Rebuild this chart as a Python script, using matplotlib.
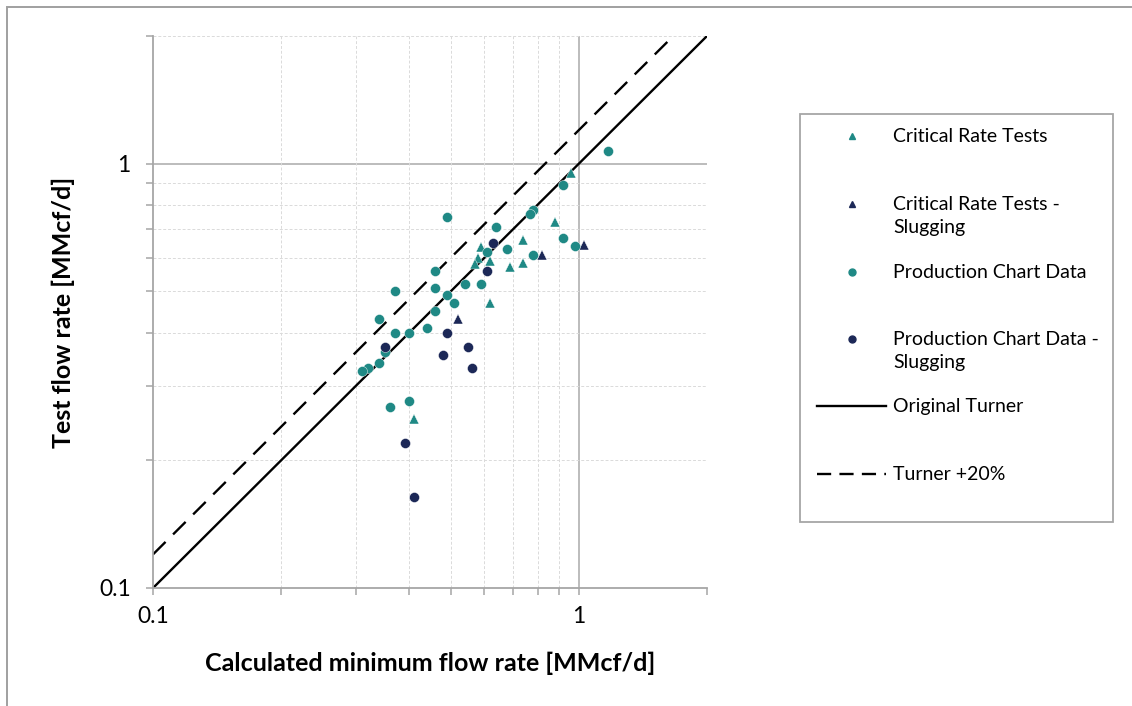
import matplotlib
matplotlib.use("Agg")
import matplotlib.pyplot as plt
from matplotlib.patches import Rectangle
from matplotlib.ticker import FixedLocator, NullFormatter, FixedFormatter

plt.rcParams['font.family'] = ['Lato', 'DejaVu Sans']

# Critical Rate Tests (teal triangles)
crt_x = [0.96, 0.88, 0.74, 0.59, 0.58, 0.57, 0.62, 0.69, 0.74, 0.62, 0.41]
crt_y = [0.95, 0.73, 0.66, 0.635, 0.60, 0.58, 0.59, 0.57, 0.585, 0.47, 0.25]

# Critical Rate Tests - Slugging (navy triangles)
crts_x = [1.03, 0.82, 0.52]
crts_y = [0.645, 0.61, 0.43]

# Production Chart Data (teal circles)
pcd_x = [1.17, 0.92, 0.78, 0.77, 0.49, 0.64, 0.92, 0.98, 0.68, 0.61, 0.78,
         0.46, 0.37, 0.46, 0.54, 0.59, 0.49, 0.51, 0.46, 0.34, 0.37, 0.40,
         0.44, 0.35, 0.34, 0.32, 0.31, 0.36, 0.40]
pcd_y = [1.07, 0.89, 0.78, 0.76, 0.75, 0.71, 0.67, 0.64, 0.63, 0.62, 0.61,
         0.56, 0.50, 0.51, 0.52, 0.52, 0.49, 0.47, 0.45, 0.43, 0.40, 0.40,
         0.41, 0.36, 0.34, 0.33, 0.324, 0.267, 0.276]

# Production Chart Data - Slugging (navy circles)
pcds_x = [0.63, 0.61, 0.49, 0.55, 0.35, 0.48, 0.56, 0.39, 0.41]
pcds_y = [0.65, 0.56, 0.40, 0.37, 0.37, 0.355, 0.33, 0.22, 0.164]

# Turner lines
turner_x = [0.1, 2.0]
turner_y = [0.1, 2.0]
turner20_x = [0.1, 2.0 / 1.2]
turner20_y = [0.12, 2.0]

TEAL = '#1f8985'
NAVY = '#1c2857'
GRID = '#dadada'
AXIS = '#a6a6a6'

major = [0.1, 1]
minor = [0.2, 0.3, 0.4, 0.5, 0.6, 0.7, 0.8, 0.9, 2]


def main():
    fig = plt.figure(figsize=(11.32, 7.06), dpi=100)
    ax = fig.add_axes([153 / 1132, 1 - 588 / 706, 554 / 1132, 552 / 706])

    ax.set_xscale('log')
    ax.set_yscale('log')
    ax.set_xlim(0.1, 2)
    ax.set_ylim(0.1, 2)

    for a in (ax.xaxis, ax.yaxis):
        a.set_major_locator(FixedLocator(major))
        a.set_major_formatter(FixedFormatter(['0.1', '1']))
        a.set_minor_locator(FixedLocator(minor))
        a.set_minor_formatter(NullFormatter())

    ax.grid(which='minor', color=GRID, lw=0.7, ls=(0, (3, 2)))
    ax.axvline(1, color='#b0b0b0', lw=1.2, zorder=0.5)
    ax.axhline(1, color='#b0b0b0', lw=1.2, zorder=0.5)
    ax.set_axisbelow(True)

    for s in ('top', 'right'):
        ax.spines[s].set_visible(False)
    for s in ('left', 'bottom'):
        ax.spines[s].set_color(AXIS)
        ax.spines[s].set_linewidth(1.3)

    ax.tick_params(which='both', direction='out', length=5, width=1.1,
                   color=AXIS, labelsize=16.5, pad=8)
    ax.tick_params(axis='y', pad=11)

    ax.plot(turner_x, turner_y, color='black', lw=1.7, zorder=2)
    ax.plot(turner20_x, turner20_y, color='black', lw=1.7,
            dashes=(7.5, 4.5), zorder=2)

    ax.plot(crt_x, crt_y, ls='none', marker='^', ms=7.5, color=TEAL,
            mec='white', mew=0.3, zorder=3)
    ax.plot(crts_x, crts_y, ls='none', marker='^', ms=7.5, color=NAVY,
            mec='white', mew=0.3, zorder=3)
    ax.plot(pcd_x, pcd_y, ls='none', marker='o', ms=7.2, color=TEAL,
            mec='white', mew=0.3, zorder=3)
    ax.plot(pcds_x, pcds_y, ls='none', marker='o', ms=7.2, color=NAVY,
            mec='white', mew=0.3, zorder=3)

    ax.set_xlabel('Calculated minimum flow rate [MMcf/d]', fontsize=18,
                  fontweight='bold', labelpad=18)
    ax.set_ylabel('Test flow rate [MMcf/d]', fontsize=18,
                  fontweight='bold', labelpad=17)

    # outer chart frame
    fig.add_artist(Rectangle((7 / 1132, -0.2), 1.2, 0.2 + 1 - 6.5 / 706,
                             transform=fig.transFigure, fill=False,
                             edgecolor='#a0a0a0', lw=1.4))

    # legend, drawn in pixel-based axes
    lg = fig.add_axes([0, 0, 1, 1])
    lg.set_xlim(0, 1132)
    lg.set_ylim(706, 0)
    lg.axis('off')
    lg.add_patch(Rectangle((799.5, 114), 313, 407.5, fill=False,
                           edgecolor=AXIS, lw=1.3))
    rows = [
        (136, 'Critical Rate Tests', dict(marker='^', color=TEAL)),
        (204, 'Critical Rate Tests -\nSlugging', dict(marker='^', color=NAVY)),
        (272, 'Production Chart Data', dict(marker='o', color=TEAL)),
        (339, 'Production Chart Data -\nSlugging', dict(marker='o', color=NAVY)),
        (406, 'Original Turner', dict(ls='-')),
        (474, 'Turner +20%', dict(ls='--')),
    ]
    for y, label, st in rows:
        if 'marker' in st:
            lg.plot([852], [y], ls='none', marker=st['marker'], ms=5,
                    color=st['color'])
        elif st['ls'] == '-':
            lg.plot([817, 886], [y, y], color='black', lw=1.7)
        else:
            lg.plot([817, 886], [y, y], color='black', lw=1.7,
                    dashes=(6, 3.5))
        lg.text(893, y - 8, label, fontsize=14, va='top', ha='left',
                linespacing=1.4)

    fig.savefig('out.png', dpi=100)


if __name__ == "__main__":
    main()
